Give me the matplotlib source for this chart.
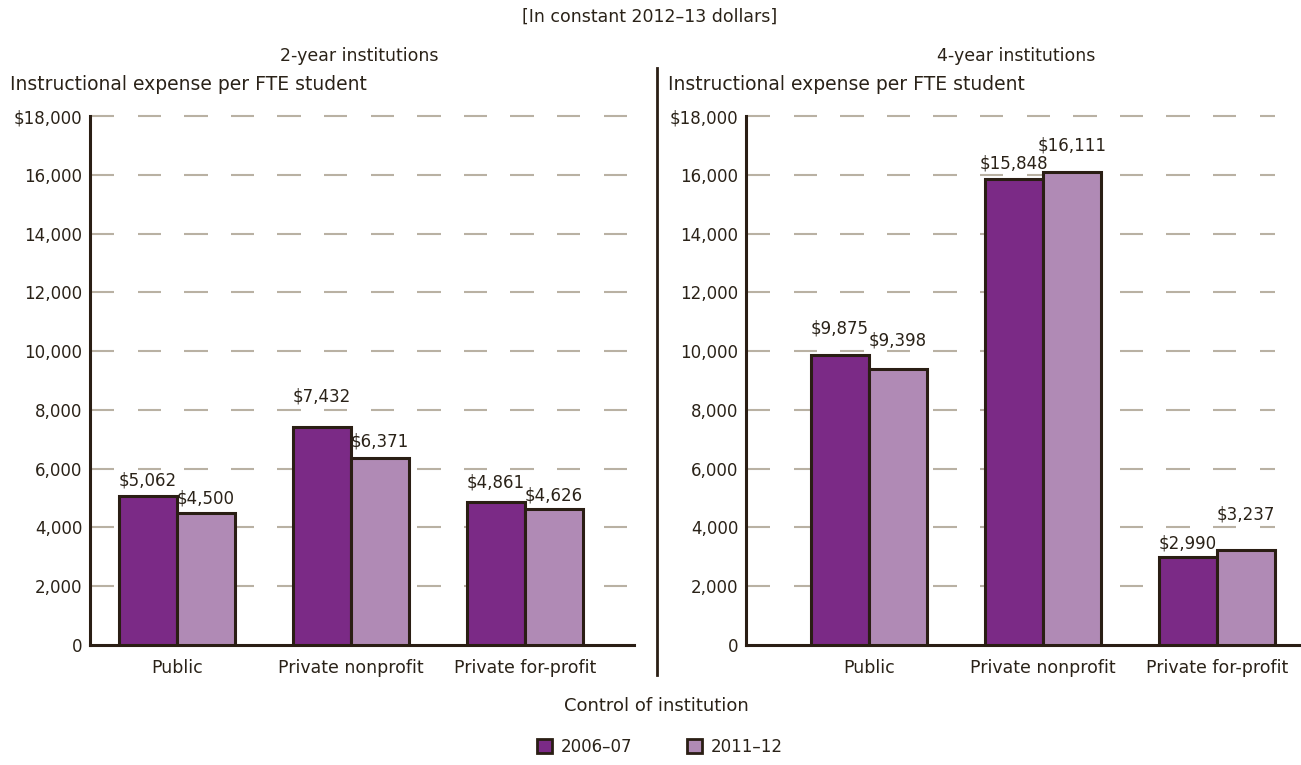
import numpy as np
import matplotlib.pyplot as plt
from matplotlib.patches import Patch
from matplotlib.collections import LineCollection

# data
categories = ['Public', 'Private nonprofit', 'Private for-profit']
years = ['2006–07', '2011–12']
two_year_0607 = [5062, 7432, 4861]
two_year_1112 = [4500, 6371, 4626]
four_year_0607 = [9875, 15848, 2990]
four_year_1112 = [9398, 16111, 3237]
yticks = [0, 2000, 4000, 6000, 8000, 10000, 12000, 14000, 16000, 18000]
ytick_labels = ['0', '2,000', '4,000', '6,000', '8,000', '10,000', '12,000',
                '14,000', '16,000', '$18,000']

# label nudges above bar tops (pixels)
two_year_offsets = [[16, 14], [30, 16], [20, 14]]
four_year_offsets = [[26, 28], [16, 26], [14, 35]]

dark = '#7b2a86'
light = '#b08ab5'
edge = '#2a1e14'
ink = '#2a2218'
gridc = '#b9b1a3'

plt.rcParams['font.family'] = ['DejaVu Sans']
plt.rcParams['text.color'] = ink

W, H = 1301, 765
fig = plt.figure(figsize=(W / 100, H / 100), dpi=100)

def fx(px):
    return px / W

def fy(py):
    return 1 - py / H

bottom = fy(645)
height = fy(116) - bottom
ax1 = fig.add_axes([fx(90), bottom, fx(634 - 90), height])
ax2 = fig.add_axes([fx(746), bottom, fx(1300 - 746), height])

def dashed_grid(ax, width_px, end_px, dash_px=23.3, gap_px=23.3):
    # dashed gridlines that always start with a dash at the y axis
    segs = []
    starts = np.arange(1.0, end_px, dash_px + gap_px)
    for t in yticks[1:]:
        for s in starts:
            e = min(s + dash_px, end_px)
            segs.append([(s / width_px, t), (e / width_px, t)])
    lc = LineCollection(segs, colors=gridc, linewidths=1.5,
                        transform=ax.get_yaxis_transform(), zorder=1,
                        clip_on=False)
    ax.add_collection(lc)

def draw_panel(ax, v1, v2, offsets, xlim, width_px, grid_px):
    w = 0.333
    x = list(range(len(categories)))
    ax.set_xlim(*xlim)
    ax.set_ylim(0, 18000)
    dashed_grid(ax, width_px, grid_px)
    b1 = ax.bar([i - w / 2 for i in x], v1, w, color=dark, edgecolor=edge,
                linewidth=2.2, zorder=3)
    b2 = ax.bar([i + w / 2 for i in x], v2, w, color=light, edgecolor=edge,
                linewidth=2.2, zorder=3)
    for bars, vals, k in ((b1, v1, 0), (b2, v2, 1)):
        for i, (b, v) in enumerate(zip(bars, vals)):
            ax.annotate(f'${v:,}', (b.get_x() + b.get_width() / 2, v),
                        xytext=(0, offsets[i][k] * 0.72), textcoords='offset points',
                        ha='center', va='center', fontsize=12, color=ink,
                        zorder=4)
    for s in ('top', 'right'):
        ax.spines[s].set_visible(False)
    for s in ('left', 'bottom'):
        ax.spines[s].set_color(edge)
        ax.spines[s].set_linewidth(2.2)
    ax.set_yticks(yticks)
    ax.set_yticklabels(ytick_labels)
    ax.set_xticks(x)
    ax.set_xticklabels(categories)
    ax.tick_params(axis='both', length=0, labelsize=12, colors=ink)
    ax.tick_params(axis='y', pad=5.5)
    ax.tick_params(axis='x', pad=10, labelsize=12.5)

draw_panel(ax1, two_year_0607, two_year_1112, two_year_offsets,
           (-0.5, 2.626), 634 - 90, 629 - 90)
draw_panel(ax2, four_year_0607, four_year_1112, four_year_offsets,
           (-0.707, 2.477), 1300 - 746, 1275 - 746)

# titles and labels
fig.text(fx(650), fy(17), '[In constant 2012–13 dollars]', ha='center',
         va='center', fontsize=12.5)
fig.text(fx(359), fy(56), '2-year institutions', ha='center', va='center',
         fontsize=12.5)
fig.text(fx(1016), fy(56), '4-year institutions', ha='center', va='center',
         fontsize=12.5)
fig.text(fx(10), fy(84), 'Instructional expense per FTE student', ha='left',
         va='center', fontsize=13.5)
fig.text(fx(668), fy(84), 'Instructional expense per FTE student', ha='left',
         va='center', fontsize=13.5)
fig.text(fx(656), fy(706), 'Control of institution', ha='center',
         va='center', fontsize=13)

# divider
fig.add_artist(plt.Line2D([fx(657), fx(657)], [fy(68), fy(675)],
                          color=edge, lw=2.0))

handles = [Patch(facecolor=dark, edgecolor=edge, linewidth=2.0),
           Patch(facecolor=light, edgecolor=edge, linewidth=2.0)]
fig.legend(handles, years, loc='center', bbox_to_anchor=(fx(660), fy(747)),
           ncol=2, frameon=False, fontsize=12, handlelength=0.9,
           handleheight=0.9, columnspacing=3.3, handletextpad=0.5)

fig.savefig('out.png', dpi=100)
